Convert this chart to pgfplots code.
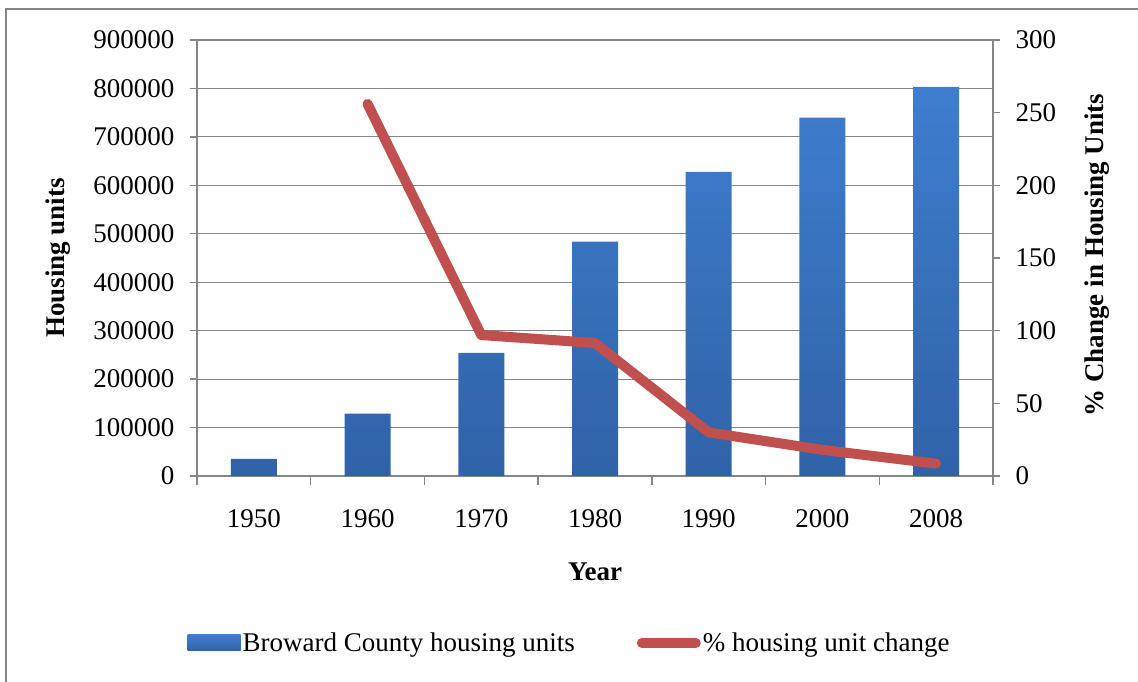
\documentclass[border=0pt]{standalone}
\usepackage{pgfplots}
\pgfplotsset{compat=1.18}
\usepackage{fontspec}
\setmainfont{Liberation Serif}
\definecolor{barTop}{RGB}{62,126,206}
\definecolor{barBot}{RGB}{48,98,168}
\definecolor{lineRed}{RGB}{192,80,77}
\definecolor{axGray}{RGB}{134,134,134}

\begin{document}
\begin{tikzpicture}
\useasboundingbox (0,0) rectangle (1138bp,682bp);
\draw[axGray,line width=1.5bp] (6bp,0) -- (6bp,673bp) -- (1138bp,673bp);
\pgfplotsset{every axis/.append style={
  scale only axis,width=796bp,height=436bp,
  at={(197bp,206bp)},anchor=south west,
  font=\fontsize{27bp}{32bp}\selectfont,
  /pgf/number format/assume math mode=true,
  xmin=-0.5,xmax=6.5,
  axis line style={axGray,line width=1.3bp},
  tick style={axGray,line width=1.3bp},
  major tick length=7bp,tick align=outside}}

\begin{axis}[
  axis x line*=bottom,axis y line*=left,
  ymin=0,ymax=900000,ytick={0,100000,...,900000},
  scaled y ticks=false,
  yticklabel style={/pgf/number format/fixed,/pgf/number format/1000 sep={},xshift=-12bp},
  xtick={0,...,6},xticklabels={1950,1960,1970,1980,1990,2000,2008},
  major x tick style={draw=none},
  minor xtick={-0.5,0.5,...,6.5},minor tick length=9bp,
  xticklabel style={yshift=-23bp},
  ymajorgrids,grid style={axGray,line width=1.2bp},
  xlabel={\bfseries Year},
  xlabel style={at={(axis description cs:0.5,-0.22)},anchor=center},
  ylabel={\bfseries Housing units},
  ylabel style={at={(axis description cs:-0.1746,0.5)},anchor=center}]
\addplot[ybar,bar width=46bp,draw=none,top color=barTop,bottom color=barBot]
  coordinates {(0,35600) (1,129000) (2,254000) (3,484000) (4,628000) (5,740000) (6,803000)};
\end{axis}

\begin{axis}[
  axis x line=none,axis y line*=right,
  ymin=0,ymax=300,ytick={0,50,...,300},
  yticklabel style={xshift=12bp},
  ylabel={\bfseries \% Change in Housing Units},
  ylabel style={at={(axis description cs:1.1307,0.507)},anchor=center,rotate=0},
  legend columns=2,
  legend style={at={(0.468,-0.383)},anchor=center,draw=none,fill=none,
    /tikz/every even column/.append style={column sep=60bp}},
  legend cell align=left]
\addlegendimage{legend image code/.code={\path[draw=none,top color=barTop,bottom color=barBot] (0bp,-8bp) rectangle (53bp,8bp);}}
\addlegendentry{Broward County housing units}
\addplot[lineRed,line width=10bp,line cap=round,line join=round,
  legend image code/.code={\draw[lineRed,line width=10bp,line cap=round] (3bp,0bp) -- (57bp,0bp);}]
  coordinates {(1,256) (2,97) (3,91.5) (4,30) (5,18) (6,8.5)};
\addlegendentry{\% housing unit change}
\end{axis}
\end{tikzpicture}
\end{document}
